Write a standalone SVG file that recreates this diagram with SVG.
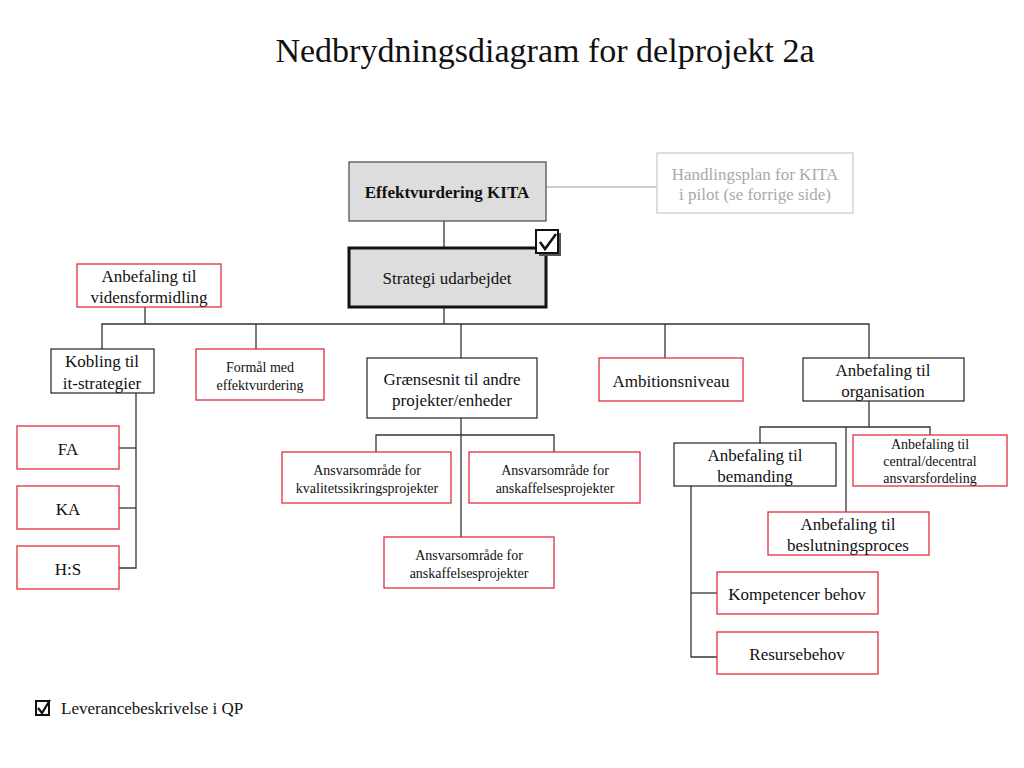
<svg xmlns="http://www.w3.org/2000/svg" width="1024" height="768" viewBox="0 0 1024 768">
<style>
text{font-family:"Liberation Serif","Times New Roman",serif;fill:#111;text-anchor:middle}
.t15{font-size:17px}
.t13{font-size:14px}
.blk{fill:#fff;stroke:#222;stroke-width:1.2}
.red{fill:#fff;stroke:#e0303c;stroke-width:1.3}
.ln{fill:none;stroke:#333;stroke-width:1.3}
</style>
<rect width="1024" height="768" fill="#fff"/>
<text x="545" y="62" style="font-size:34px">Nedbrydningsdiagram for delprojekt 2a</text>

<g id="connectors">
<line class="ln" x1="546" y1="187" x2="657" y2="187" style="stroke:#bbb"/>
<line class="ln" x1="444" y1="221" x2="444" y2="248"/>
<line class="ln" x1="444" y1="307" x2="444" y2="324"/>
<line class="ln" x1="145" y1="307" x2="145" y2="324"/>
<polyline class="ln" points="102,349 102,324 869,324 869,358"/>
<line class="ln" x1="256" y1="324" x2="256" y2="349"/>
<line class="ln" x1="461" y1="324" x2="461" y2="358"/>
<line class="ln" x1="665" y1="324" x2="665" y2="358"/>
<polyline class="ln" points="136,393 136,568 119,568"/>
<line class="ln" x1="119" y1="448" x2="136" y2="448"/>
<line class="ln" x1="119" y1="508" x2="136" y2="508"/>
<line class="ln" x1="461" y1="418" x2="461" y2="537"/>
<polyline class="ln" points="376,452 376,435 554,435 554,452"/>
<line class="ln" x1="869" y1="401" x2="869" y2="427"/>
<polyline class="ln" points="760,443 760,427 930,427 930,435"/>
<line class="ln" x1="846" y1="427" x2="846" y2="512"/>
<polyline class="ln" points="691,486 691,657 717,657"/>
<line class="ln" x1="691" y1="593" x2="717" y2="593"/>
</g>

<g id="effekt"><rect x="349" y="162" width="197" height="59" fill="#ddd" stroke="#555" stroke-width="1.3"/><text class="t15" x="447" y="198" font-weight="bold">Effektvurdering KITA</text></g>
<g id="handling"><rect x="657" y="153" width="196" height="60" fill="#fff" stroke="#ccc" stroke-width="1.3"/><text class="t15" x="755" y="180" style="fill:#aaa">Handlingsplan for KITA</text><text class="t15" x="755" y="200" style="fill:#aaa">i pilot (se forrige side)</text></g>
<g id="strategi"><rect x="349" y="248" width="197" height="59" fill="#ddd" stroke="#111" stroke-width="3"/><text class="t15" x="447" y="284">Strategi udarbejdet</text></g>
<g id="check"><rect x="539" y="233" width="22" height="23" fill="#555"/><rect x="536" y="230" width="22" height="23" fill="#fff" stroke="#111" stroke-width="2"/><path d="M540,242 L545,249 L556,234" fill="none" stroke="#111" stroke-width="2.5"/></g>
<g id="videns"><rect class="red" x="77" y="264" width="144" height="43"/><text class="t15" x="149" y="282">Anbefaling til</text><text class="t15" x="149" y="303">vidensformidling</text></g>
<g id="kobling"><rect class="blk" x="51" y="349" width="103" height="44"/><text class="t15" x="102" y="367">Kobling til</text><text class="t15" x="102" y="389">it-strategier</text></g>
<g id="formaal"><rect class="red" x="196" y="349" width="128" height="51"/><text class="t13" x="260" y="372">Formål med</text><text class="t13" x="260" y="390">effektvurdering</text></g>
<g id="graensesnit"><rect class="blk" x="367" y="358" width="170" height="60"/><text class="t15" x="452" y="385">Grænsesnit til andre</text><text class="t15" x="452" y="406">projekter/enheder</text></g>
<g id="ambition"><rect class="red" x="599" y="358" width="144" height="43"/><text class="t15" x="671" y="387">Ambitionsniveau</text></g>
<g id="organisation"><rect class="blk" x="803" y="358" width="161" height="43"/><text class="t15" x="883" y="376">Anbefaling til</text><text class="t15" x="883" y="397">organisation</text></g>
<g id="fa"><rect class="red" x="17" y="426" width="102" height="43"/><text class="t15" x="68" y="455">FA</text></g>
<g id="ka"><rect class="red" x="17" y="486" width="102" height="43"/><text class="t15" x="68" y="515">KA</text></g>
<g id="hs"><rect class="red" x="17" y="546" width="102" height="43"/><text class="t15" x="68" y="575">H:S</text></g>
<g id="kvalitet"><rect class="red" x="282" y="452" width="169" height="51"/><text class="t13" x="367" y="475">Ansvarsområde for</text><text class="t13" x="367" y="493">kvalitetssikringsprojekter</text></g>
<g id="anskaf1"><rect class="red" x="469" y="452" width="171" height="51"/><text class="t13" x="555" y="475">Ansvarsområde for</text><text class="t13" x="555" y="493">anskaffelsesprojekter</text></g>
<g id="anskaf2"><rect class="red" x="384" y="537" width="170" height="51"/><text class="t13" x="469" y="560">Ansvarsområde for</text><text class="t13" x="469" y="578">anskaffelsesprojekter</text></g>
<g id="bemanding"><rect class="blk" x="674" y="443" width="162" height="43"/><text class="t15" x="755" y="461">Anbefaling til</text><text class="t15" x="755" y="482">bemanding</text></g>
<g id="central"><rect class="red" x="853" y="435" width="154" height="51"/><text class="t13" x="930" y="449">Anbefaling til</text><text class="t13" x="930" y="466">central/decentral</text><text class="t13" x="930" y="483">ansvarsfordeling</text></g>
<g id="beslutning"><rect class="red" x="768" y="512" width="161" height="43"/><text class="t15" x="848" y="530">Anbefaling til</text><text class="t15" x="848" y="551">beslutningsproces</text></g>
<g id="kompetencer"><rect class="red" x="717" y="572" width="161" height="42"/><text class="t15" x="797" y="600">Kompetencer behov</text></g>
<g id="resurse"><rect class="red" x="717" y="632" width="161" height="42"/><text class="t15" x="797" y="660">Resursebehov</text></g>
<g id="legend"><rect x="36" y="701" width="13" height="14" fill="#fff" stroke="#111" stroke-width="2"/><path d="M38,708 L42,713 L50,700" fill="none" stroke="#111" stroke-width="2.2"/><text class="t15" x="61" y="714" style="text-anchor:start">Leverancebeskrivelse i QP</text></g>
</svg>
